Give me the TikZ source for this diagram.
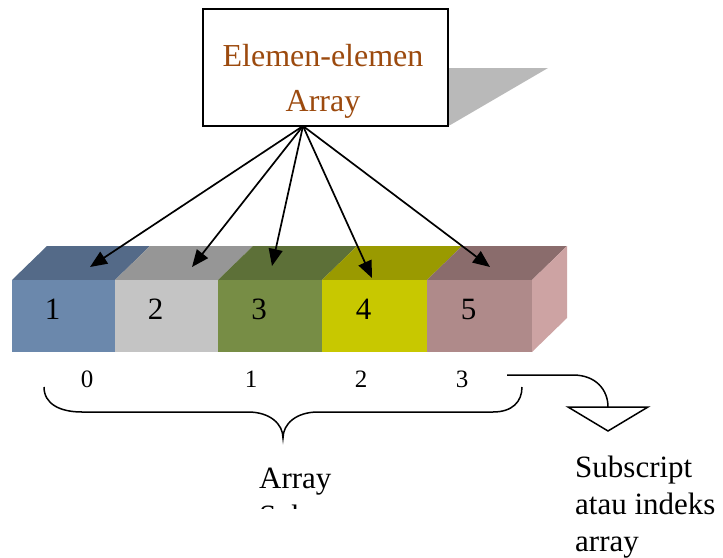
\documentclass[tikz,border=0pt]{standalone}
\usepackage{fontspec}
\setmainfont{Liberation Serif}
\usetikzlibrary{arrows.meta}
\definecolor{titlebrown}{HTML}{9C4A0E}
\definecolor{f1}{HTML}{6B88AC}\definecolor{t1}{HTML}{546A88}
\definecolor{f2}{HTML}{C4C4C4}\definecolor{t2}{HTML}{969696}
\definecolor{f3}{HTML}{778D45}\definecolor{t3}{HTML}{5D7038}
\definecolor{f4}{HTML}{C8C800}\definecolor{t4}{HTML}{9A9A00}
\definecolor{f5}{HTML}{AF8A8A}\definecolor{t5}{HTML}{8A6C6C}
\definecolor{s5}{HTML}{CDA3A3}
\tikzset{
  big/.style={font=\fontsize{31}{37}\selectfont},
  ttl/.style={font=\fontsize{32}{45}\selectfont},
  idx/.style={font=\fontsize{25}{30}\selectfont},
  pointer/.style={line width=1.7pt,-{Triangle[length=17pt,width=14pt]}},
  thin line/.style={line width=1.5pt},
}
\begin{document}
\begin{tikzpicture}[x=1pt,y=-1pt]
\useasboundingbox (0,0) rectangle (723,557);
% shadow
\fill[gray!55] (448,68) -- (548,68) -- (452,124) -- (448,126) -- cycle;
% title box
\node[draw,line width=1.7pt,fill=white,minimum width=245pt,minimum height=117pt,inner sep=0pt] (box) at (325.5,67.5) {};
\node[ttl,text=titlebrown,anchor=base,inner sep=0pt] (l1) at (323,66) {Elemen-elemen};
\node[ttl,text=titlebrown,anchor=base,inner sep=0pt] (l2) at (323,111) {Array};
% cells: top faces
\foreach \a/\b/\c in {12/115/t1,115/218/t2,218/322/t3,322/427/t4,427/532/t5}{
  \fill[\c] (\a,280) -- (\a+35,246) -- (\b+35,246) -- (\b,280) -- cycle;
}
\fill[s5] (532,280) -- (567,246) -- (567,318) -- (532,352) -- cycle;
\foreach \a/\b/\c/\n in {12/115/f1/1,115/218/f2/2,218/322/f3/3,322/427/f4/4,427/532/f5/5}{
  \fill[\c] (\a,280) rectangle (\b,352);
  \node[big,inner sep=0pt] (c\n) at ({(\a+\b)/2-11},309) {\n};
}
% arrows
\coordinate (hub) at (303,126);
\coordinate (p1) at (90,267);
\coordinate (p2) at (192,267);
\coordinate (p3) at (272,266);
\coordinate (p4) at (372,278);
\coordinate (p5) at (490,267);
\foreach \i in {1,...,5}{\draw[pointer] (hub) -- (p\i);}
% indices
\node[idx,inner sep=0pt] (i0) at (87,379) {0};
\node[idx,inner sep=0pt] (i1) at (251,379) {1};
\node[idx,inner sep=0pt] (i2) at (361,379) {2};
\node[idx,inner sep=0pt] (i3) at (462,379) {3};
% brace
\draw[thin line] (44,387) .. controls (44,404) and (60,412) .. (82,412) -- (248,412)
  .. controls (270,412) and (283,424) .. (283,438)
  .. controls (283,424) and (296,412) .. (318,412) -- (493,412)
  .. controls (512,412) and (522,402) .. (522,387);
% subscript pointer
\coordinate (s0) at (507,375);
\coordinate (s1) at (608,407);
\draw[thin line] (s0) -- (573,375) .. controls (596,375) and (608,390) .. (s1);
\draw[thin line] (568,407) -- (648,407) -- (608,431) -- cycle;
% labels
\node[big,anchor=base west,inner sep=0pt] (arr) at (259,488) {Array};
\begin{scope}
\clip (200,440) rectangle (400,508);
\node[big,anchor=base west,inner sep=0pt] (arr2) at (259,526) {Sub};
\end{scope}
\node[big,anchor=base west,inner sep=0pt] (sub1) at (575,477) {Subscript};
\node[big,anchor=base west,inner sep=0pt] (sub2) at (575,514) {atau indeks};
\node[big,anchor=base west,inner sep=0pt] (sub3) at (575,551) {array};
\end{tikzpicture}
\end{document}
